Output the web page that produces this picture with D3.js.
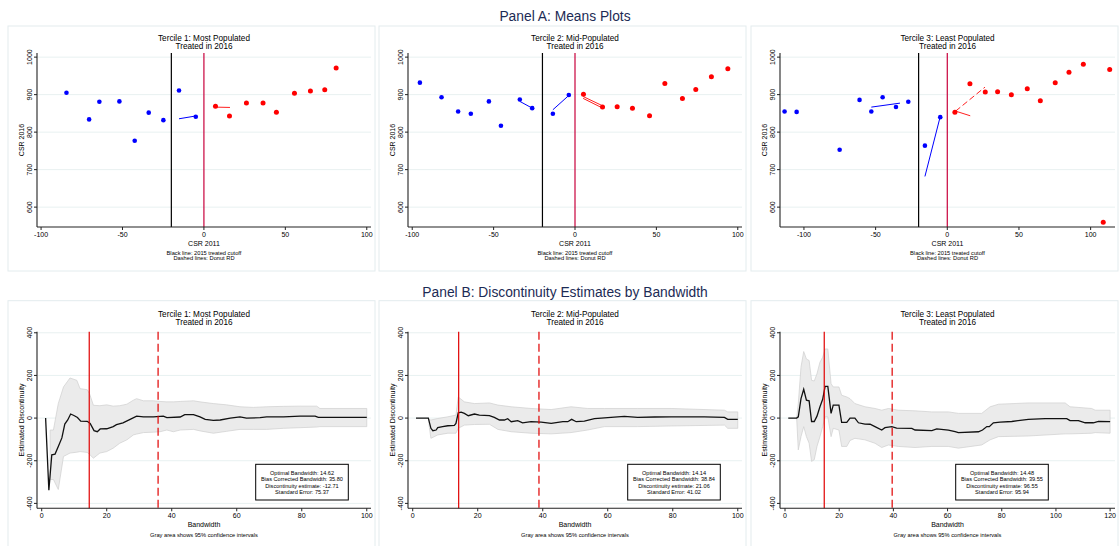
<!DOCTYPE html>
<html>
<head>
<meta charset="utf-8">
<script src="https://cdn.jsdelivr.net/npm/d3@7"></script>
<style>
  body { margin: 0; background: #fff; }
  text { font-family: "Liberation Sans", Arial, sans-serif; }
</style>
</head>
<body>
<svg width="1119" height="546"></svg>
<script>
// ---- Panel A: binned means (CSR 2011, CSR 2016) ----
var t1Blue = [[-84.4,905],[-70.5,834],[-64.2,881],[-51.9,882],[-42.5,777],[-33.9,852],[-24.9,832],[-15.3,911],[-5.0,841]];
var t1Red  = [[7.1,869],[15.7,843],[26.1,878],[36.3,878],[44.5,853],[55.6,904],[65.4,910],[74.2,913],[81.2,971]];
var t1BlueFit = [[[-15.3,835.6],[-5.5,842.7]]];
var t1RedFit  = [[[7,866.7],[16,865.8]]];

var t2Blue = [[-95.3,932],[-82,893],[-71.8,855],[-64,849],[-52.9,882],[-45.5,817],[-33.9,887],[-26.3,864],[-13.6,849],[-3.8,899]];
var t2Red  = [[5.2,901],[16.9,867],[25.9,868],[35.3,864],[45.8,844],[55.2,930],[66,890],[74.2,914],[83.8,948],[93.9,969]];
var t2BlueFit = [[[-33.9,882],[-26.3,864]], [[-13.6,859.6],[-3.8,897.8]]];
var t2RedFit  = [[[5,895],[18,868]], [[5,890],[17,864]]];

var t3Blue = [[-113.5,855],[-105.1,854],[-75.1,753],[-61.2,886],[-53,855],[-45.1,893],[-35.8,867],[-27.2,881],[-15.6,764],[-4.9,840]];
var t3Red  = [[5.3,853],[15.8,929],[26.5,907],[35.1,908],[44.7,900],[55.8,916],[64.9,884],[75.3,932],[84.9,960],[94.9,981],[113.3,967],[108.8,560]];
var t3BlueFit = [[[-53,866.7],[-33,877.3]], [[-15.6,681.8],[-4.9,841.8]]];
var t3RedFit  = [[[5.8,856],[26.3,920]], [[5.8,856],[16,843.6]]];

var aTicksY = [600, 700, 800, 900, 1000];
var aTicksX = [-100, -50, 0, 50, 100];
var cutoffs = [-20, 0];

// ---- Panel B: discontinuity estimate by bandwidth ----
var t1Est = [[1.2,0],[2.2,-338],[3.1,-172],[4.1,-169],[5.1,-133],[6.2,-93],[7.1,-28],[8,-9],[8.9,19],[9.9,12],[11,3],[12,-14],[14,-15],[14.9,-25],[16.1,-59],[17.1,-64],[18,-51],[20,-50],[22,-40],[23,-31],[25,-22],[27.2,-6],[29.2,9],[31.3,6],[34.4,6],[37.4,9],[38.5,2],[42.6,5],[44,16],[46.7,16],[48.7,6],[50.3,-6],[52.8,-11],[54.9,-9],[58,0],[61,6],[63,0],[67.2,2],[69.2,6],[74.4,6],[79.5,9],[84.1,9],[85.1,3],[89.7,3],[100,3]];
var t1Band = [[2.6,-288,-56],[3.6,-288,-56],[5.1,-335,68],[6.7,-180,146],[8.7,-164,188],[10.8,-160,177],[11.8,-157,138],[14,-161,133],[14.7,-170,115],[15.9,-188,60],[17.9,-164,58],[20,-157,62],[22,-141,56],[24,-118,58],[26.2,-102,65],[28.2,-79,84],[29.2,-75,91],[31.3,-68,81],[34.4,-66,81],[36.4,-64,78],[38.5,-56,76],[40.5,-64,76],[42.6,-56,78],[46.7,-53,81],[48.7,-60,76],[52.8,-71,68],[56.9,-62,62],[61,-53,53],[65.1,-53,50],[69.2,-53,53],[74.4,-48,55],[79.5,-45,56],[84.6,-42,56],[85.6,-40,45],[100,-40,45]];
var t1Stats = ["Optimal Bandwidth: 14.62", "Bias Corrected Bandwidth: 35.80", "Discontinuity estimate: -12.71", "Standard Error: 75.37"];
var t1Bw = [14.62, 35.80];

var t2Est = [[1,0],[4.8,0],[5.6,-48],[6.2,-59],[7.2,-56],[7.7,-45],[9.2,-40],[10.8,-36],[12.8,-34],[13.3,-25],[14,25],[14.9,28],[15.9,22],[17.1,11],[19,19],[20.5,14],[23.6,12],[25.1,3],[26.7,-9],[28.2,-9],[29.2,-3],[30.3,-17],[32.3,-12],[33.8,-22],[36.4,-17],[39.5,-19],[42.6,-25],[46.2,-17],[47.7,-17],[48.9,-6],[50.3,-17],[52.8,-14],[55.9,-3],[58,0],[61,3],[65.1,8],[69.2,3],[74.4,5],[79.5,6],[89.7,6],[95.9,3],[96.9,-6],[100,-6]];
var t2Band = [[5,-30,-5],[5.6,-95,-9],[7.7,-79,-2],[10.8,-71,6],[13.3,-71,14],[14,-48,99],[15.9,-33,76],[19,-30,68],[23.6,-29,71],[26.2,-53,61],[30.3,-64,53],[36.4,-71,45],[42.6,-74,40],[48.7,-68,53],[53.8,-56,45],[59,-40,45],[69.2,-40,45],[79.5,-37,45],[95.9,-33,37],[96.9,-48,29],[100,-48,29]];
var t2Stats = ["Optimal Bandwidth: 14.14", "Bias Corrected Bandwidth: 38.84", "Discontinuity estimate: 21.06", "Standard Error: 41.02"];
var t2Bw = [14.14, 38.84];

var t3Est = [[1.2,0],[4.3,0],[4.9,6],[5.9,91],[6.9,135],[7.9,84],[8.9,81],[9.8,-16],[10.8,-16],[11.8,9],[12.9,53],[13.9,88],[14.8,149],[15.8,149],[17,22],[17.8,61],[19.9,61],[20.9,-20],[22.8,-20],[24,0],[25.8,0],[27.1,-22],[29.5,-28],[31.4,-29],[33.2,-40],[35.7,-56],[36.9,-45],[39.4,-40],[41.2,-47],[46.8,-48],[48,-56],[54.2,-59],[56,-51],[60.3,-56],[62.8,-64],[64,-68],[71.4,-64],[72.9,-56],[74.5,-40],[75.4,-40],[76.9,-22],[79.4,-19],[83.7,-16],[89.8,-6],[96,-3],[104,-3],[105.2,-12],[108.3,-12],[110.8,-22],[113.8,-22],[115.7,-16],[120,-17]];
var t3Band = [[4.3,0,0],[4.9,-149,68],[5.9,-87,239],[6.9,-40,312],[7.9,-87,277],[8.9,-118,270],[9.8,-203,177],[10.8,-195,174],[11.8,-133,208],[12.9,-87,262],[13.9,-40,285],[14.8,6,324],[15.8,6,324],[17,-87,161],[17.8,-48,146],[19.9,-56,146],[20.9,-133,107],[22.8,-133,99],[24,-105,91],[25.8,-95,68],[29.5,-102,53],[33.2,-118,45],[35.7,-138,37],[38.2,-126,45],[41.8,-133,37],[48,-138,34],[54.2,-133,29],[60.3,-133,29],[64,-141,22],[72.6,-126,22],[75.7,-102,53],[78.8,-87,65],[89.8,-84,71],[103.4,-74,71],[105.2,-74,53],[113.2,-71,45],[114.5,-68,37],[120,-71,37]];
var t3Stats = ["Optimal Bandwidth: 14.48", "Bias Corrected Bandwidth: 39.55", "Discontinuity estimate: 96.55", "Standard Error: 95.94"];
var t3Bw = [14.48, 39.55];

var bTicksY = [-400, -200, 0, 200, 400];
var bTicksX100 = [0, 20, 40, 60, 80, 100];
var bTicksX120 = [0, 20, 40, 60, 80, 100, 120];

var titles = ["Tercile 1: Most Populated", "Tercile 2: Mid-Populated", "Tercile 3: Least Populated"];

// ---- layout ----
var svg = d3.select("svg");
var colLeft = [37, 408, 780], colRight = [371, 742, 1115], boxLeft = [8, 379, 751], boxW = 367;
var aTop = 53, aBottom = 227, bTop = 331.7, bBottom = 508.3;
var gridColor = "#e8f1f1", boxColor = "#e3ecee";

var meansPanels = [
  {blue: t1Blue, red: t1Red, blueFit: t1BlueFit, redFit: t1RedFit, dom: [-102.5, 102.6]},
  {blue: t2Blue, red: t2Red, blueFit: t2BlueFit, redFit: t2RedFit, dom: [-102.6, 102.6]},
  {blue: t3Blue, red: t3Red, blueFit: t3BlueFit, redFit: t3RedFit, dom: [-116.7, 117]}
];
var bwPanels = [
  {est: t1Est, band: t1Band, stats: t1Stats, bw: t1Bw, ticks: bTicksX100, dom: [-1.45, 101.3], legendX: 255.7},
  {est: t2Est, band: t2Band, stats: t2Stats, bw: t2Bw, ticks: bTicksX100, dom: [-1.45, 101.3], legendX: 627.7},
  {est: t3Est, band: t3Band, stats: t3Stats, bw: t3Bw, ticks: bTicksX120, dom: [-1.85, 121.8], legendX: 955.7}
];

function drawAxes(g, x, y, ticksX, ticksY, top, bottom, left, right) {
  g.append("line").attr("x1", left).attr("x2", left).attr("y1", top).attr("y2", bottom)
    .attr("stroke", "#222").attr("stroke-width", 1.1);
  g.append("line").attr("x1", left).attr("x2", right).attr("y1", bottom).attr("y2", bottom)
    .attr("stroke", "#222").attr("stroke-width", 1.1);
  ticksY.forEach(function(t) {
    g.append("line").attr("x1", left - 3).attr("x2", left).attr("y1", y(t)).attr("y2", y(t)).attr("stroke", "#222");
    g.append("text").attr("transform", "translate(" + (left - 5) + "," + y(t) + ") rotate(-90)")
      .attr("text-anchor", "middle").attr("font-size", 7).text(t);
  });
  ticksX.forEach(function(t) {
    g.append("line").attr("x1", x(t)).attr("x2", x(t)).attr("y1", bottom).attr("y2", bottom + 3).attr("stroke", "#222");
    g.append("text").attr("x", x(t)).attr("y", bottom + 10).attr("text-anchor", "middle")
      .attr("font-size", 7).text(t);
  });
}

function grid(g, y, ticks, left, right) {
  g.selectAll(null).data(ticks).enter().append("line")
    .attr("x1", left).attr("x2", right)
    .attr("y1", function(d) { return y(d); }).attr("y2", function(d) { return y(d); })
    .attr("stroke", gridColor).attr("stroke-width", 1);
}

// panel titles
svg.append("text").attr("x", 565).attr("y", 21).attr("text-anchor", "middle")
  .attr("font-size", 13.8).attr("fill", "#1c2b55").text("Panel A: Means Plots");
svg.append("text").attr("x", 565).attr("y", 297).attr("text-anchor", "middle")
  .attr("font-size", 13.8).attr("fill", "#1c2b55").text("Panel B: Discontinuity Estimates by Bandwidth");

// ---- Panel A ----
meansPanels.forEach(function(p, i) {
  var g = svg.append("g");
  var L = colLeft[i], R = colRight[i];
  var x = d3.scaleLinear().domain(p.dom).range([L, R]);
  var y = d3.scaleLinear().domain([547, 1011]).range([aBottom, aTop]);

  g.append("rect").attr("x", boxLeft[i]).attr("y", 26).attr("width", boxW).attr("height", 245)
    .attr("fill", "none").attr("stroke", boxColor);
  grid(g, y, aTicksY, L, R);

  g.append("line").attr("x1", x(cutoffs[0])).attr("x2", x(cutoffs[0])).attr("y1", aTop).attr("y2", aBottom)
    .attr("stroke", "#000").attr("stroke-width", 1.2);
  g.append("line").attr("x1", x(cutoffs[1])).attr("x2", x(cutoffs[1])).attr("y1", aTop).attr("y2", aBottom)
    .attr("stroke", "#c8003c").attr("stroke-width", 1.2);

  var line = d3.line().x(function(d) { return x(d[0]); }).y(function(d) { return y(d[1]); });
  p.blueFit.forEach(function(f) {
    g.append("path").attr("d", line(f)).attr("stroke", "#0000ff").attr("stroke-width", 1).attr("fill", "none");
  });
  p.redFit.forEach(function(f, k) {
    g.append("path").attr("d", line(f)).attr("stroke", "#ff2020").attr("stroke-width", 1).attr("fill", "none")
      .attr("stroke-dasharray", (i === 2 && k === 0) ? "6,3" : null);
  });

  g.selectAll(null).data(p.blue).enter().append("circle")
    .attr("cx", function(d) { return x(d[0]); }).attr("cy", function(d) { return y(d[1]); })
    .attr("r", 2.3).attr("fill", "#0000ff");
  g.selectAll(null).data(p.red).enter().append("circle")
    .attr("cx", function(d) { return x(d[0]); }).attr("cy", function(d) { return y(d[1]); })
    .attr("r", 2.5).attr("fill", "#ff0000");

  drawAxes(g, x, y, aTicksX, aTicksY, aTop, aBottom, L, R);

  var cx = (L + R) / 2;
  g.append("text").attr("x", cx).attr("y", 41).attr("text-anchor", "middle").attr("font-size", 8.2).text(titles[i]);
  g.append("text").attr("x", cx).attr("y", 49.3).attr("text-anchor", "middle").attr("font-size", 8.2).text("Treated in 2016");
  g.append("text").attr("x", cx).attr("y", 246).attr("text-anchor", "middle").attr("font-size", 7).text("CSR 2011");
  g.append("text").attr("x", cx).attr("y", 255).attr("text-anchor", "middle").attr("font-size", 5.7).text("Black line: 2015 treated cutoff");
  g.append("text").attr("x", cx).attr("y", 260.3).attr("text-anchor", "middle").attr("font-size", 5.7).text("Dashed lines: Donut RD");
  g.append("text").attr("transform", "translate(" + (L - 13) + "," + ((aTop + aBottom) / 2) + ") rotate(-90)")
    .attr("text-anchor", "middle").attr("font-size", 7).text("CSR 2016");
});

// ---- Panel B ----
bwPanels.forEach(function(p, i) {
  var g = svg.append("g");
  var L = colLeft[i], R = colRight[i];
  var x = d3.scaleLinear().domain(p.dom).range([L, R]);
  var y = d3.scaleLinear().domain([-423, 405]).range([bBottom, bTop]);

  g.append("rect").attr("x", boxLeft[i]).attr("y", 300.7).attr("width", boxW).attr("height", 250)
    .attr("fill", "none").attr("stroke", boxColor);
  grid(g, y, bTicksY, L, R);

  var area = d3.area().x(function(d) { return x(d[0]); })
    .y0(function(d) { return y(d[1]); }).y1(function(d) { return y(d[2]); });
  g.append("path").attr("d", area(p.band)).attr("fill", "#ebebeb")
    .attr("stroke", "#cfcfcf").attr("stroke-width", 0.7);

  var line = d3.line().x(function(d) { return x(d[0]); }).y(function(d) { return y(d[1]); });
  g.append("path").attr("d", line(p.est)).attr("fill", "none").attr("stroke", "#111").attr("stroke-width", 1.3);

  g.append("line").attr("x1", x(p.bw[0])).attr("x2", x(p.bw[0])).attr("y1", bTop).attr("y2", bBottom)
    .attr("stroke", "#e00000").attr("stroke-width", 1.2);
  g.append("line").attr("x1", x(p.bw[1])).attr("x2", x(p.bw[1])).attr("y1", bTop).attr("y2", bBottom)
    .attr("stroke", "#e00000").attr("stroke-width", 1.2).attr("stroke-dasharray", "8,4");

  // stats box
  var lx = p.legendX, lw = 92.6;
  g.append("rect").attr("x", lx).attr("y", 464.3).attr("width", lw).attr("height", 35.7)
    .attr("fill", "#fff").attr("stroke", "#000").attr("stroke-width", 1);
  g.selectAll(null).data(p.stats).enter().append("text")
    .attr("x", lx + lw / 2).attr("y", function(d, k) { return 474.5 + k * 6.5; })
    .attr("text-anchor", "middle").attr("font-size", 5.6).text(function(d) { return d; });

  drawAxes(g, x, y, p.ticks, bTicksY, bTop, bBottom, L, R);

  var cx = (L + R) / 2;
  g.append("text").attr("x", cx).attr("y", 316.7).attr("text-anchor", "middle").attr("font-size", 8.2).text(titles[i]);
  g.append("text").attr("x", cx).attr("y", 325).attr("text-anchor", "middle").attr("font-size", 8.2).text("Treated in 2016");
  g.append("text").attr("x", cx).attr("y", 527).attr("text-anchor", "middle").attr("font-size", 7).text("Bandwidth");
  g.append("text").attr("x", cx).attr("y", 536.5).attr("text-anchor", "middle").attr("font-size", 5.7).text("Gray area shows 95% confidence intervals");
  g.append("text").attr("transform", "translate(" + (L - 13) + "," + ((bTop + bBottom) / 2) + ") rotate(-90)")
    .attr("text-anchor", "middle").attr("font-size", 7).text("Estimated Discontinuity");
});
</script>
</body>
</html>
